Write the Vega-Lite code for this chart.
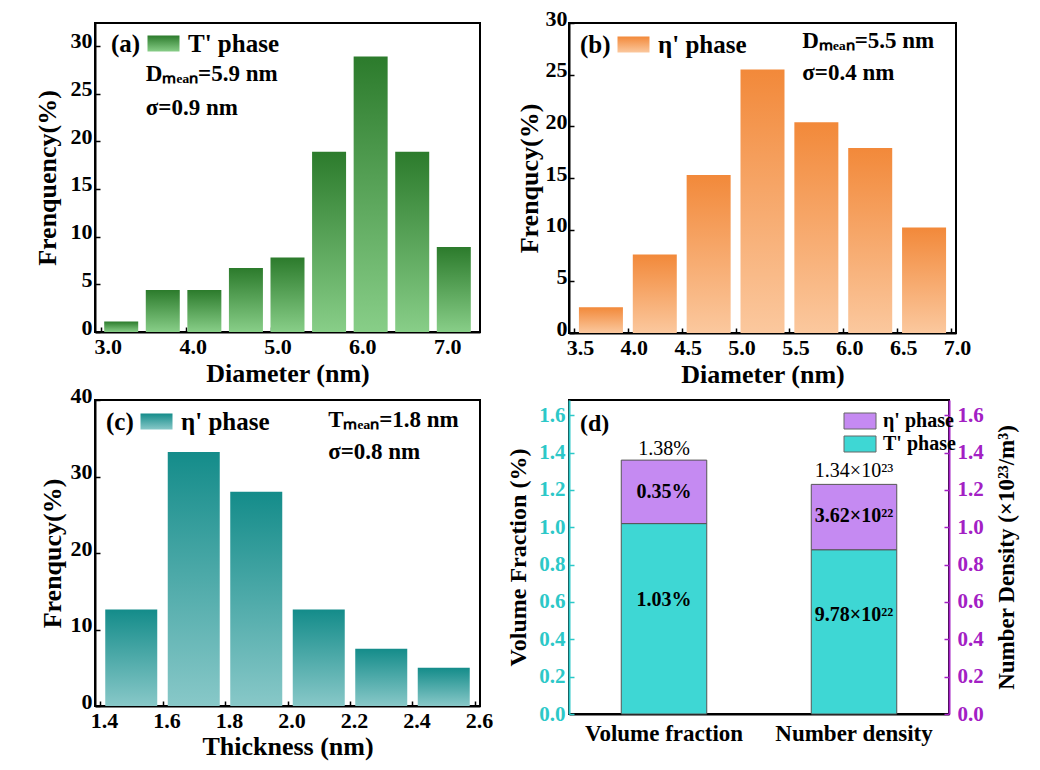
{
  "$schema": "https://vega.github.io/schema/vega-lite/v6.json",
  "background": "white",
  "padding": {"left": 33, "top": 6, "right": 5, "bottom": 5},
  "config": {
    "font": "Liberation Serif",
    "view": {"stroke": "black", "strokeWidth": 2},
    "axis": {
      "grid": false, "domainColor": "black", "domainWidth": 2,
      "tickColor": "black", "tickWidth": 1.5, "tickSize": -5,
      "labelFont": "Liberation Serif", "labelFontSize": 22, "labelFontWeight": "bold", "labelColor": "black",
      "titleFont": "Liberation Serif", "titleFontSize": 26, "titleFontWeight": "bold", "titleColor": "black",
      "labelFlush": false, "labelOverlap": false
    },
    "axisX": {"labelPadding": 9, "titlePadding": 3, "labelOffset": 7},
    "axisY": {"labelPadding": 8, "titlePadding": 9, "labelOffset": -5},
    "legend": {
      "padding": 0, "labelFont": "Liberation Serif", "titleFont": "Liberation Serif",
      "symbolType": "M-1.28,-0.64H1.28V0.64H-1.28Z", "symbolSize": 625, "rowPadding": 0
    },
    "text": {"font": "Liberation Serif", "fontWeight": "bold", "fontSize": 23}
  },
  "datasets": {
    "a": [
      {"d": 3.24, "f": 1.1}, {"d": 3.73, "f": 4.4}, {"d": 4.22, "f": 4.4},
      {"d": 4.71, "f": 6.7}, {"d": 5.2, "f": 7.8}, {"d": 5.69, "f": 18.9},
      {"d": 6.18, "f": 28.9}, {"d": 6.67, "f": 18.9}, {"d": 7.16, "f": 8.9}
    ],
    "a_txt": [
      {"x": 3.53, "y": 27.05, "label": "Dₘₑₐₙ=5.9 nm"},
      {"x": 3.53, "y": 23.5, "label": "σ=0.9 nm"}
    ],
    "b": [
      {"d": 3.75, "f": 2.5}, {"d": 4.25, "f": 7.6}, {"d": 4.75, "f": 15.3},
      {"d": 5.25, "f": 25.5}, {"d": 5.75, "f": 20.4}, {"d": 6.25, "f": 17.9},
      {"d": 6.75, "f": 10.2}
    ],
    "b_txt": [
      {"x": 5.62, "y": 28.3, "label": "Dₘₑₐₙ=5.5 nm"},
      {"x": 5.62, "y": 25.2, "label": "σ=0.4 nm"}
    ],
    "c": [
      {"t": 1.5, "f": 12.6}, {"t": 1.7, "f": 33.2}, {"t": 1.9, "f": 28.0},
      {"t": 2.1, "f": 12.6}, {"t": 2.3, "f": 7.5}, {"t": 2.5, "f": 5.0}
    ],
    "c_txt": [
      {"x": 2.13, "y": 37.4, "label": "Tₘₑₐₙ=1.8 nm"},
      {"x": 2.13, "y": 33.2, "label": "σ=0.8 nm"}
    ],
    "d": [
      {"cat": "Volume fraction", "phase": "T' phase", "v": 1.02},
      {"cat": "Volume fraction", "phase": "η' phase", "v": 0.34},
      {"cat": "Number density", "phase": "T' phase", "v": 0.88},
      {"cat": "Number density", "phase": "η' phase", "v": 0.35}
    ],
    "d_txt": [
      {"cat": "Volume fraction", "kind": "total", "y": 1.42, "label": "1.38%"},
      {"cat": "Volume fraction", "kind": "part", "y": 1.19, "label": "0.35%"},
      {"cat": "Volume fraction", "kind": "part", "y": 0.61, "label": "1.03%"},
      {"cat": "Number density", "kind": "total", "y": 1.3, "label": "1.34×10²³"},
      {"cat": "Number density", "kind": "part", "y": 1.06, "label": "3.62×10²²"},
      {"cat": "Number density", "kind": "part", "y": 0.53, "label": "9.78×10²²"}
    ]
  },
  "columns": 2,
  "bounds": "flush",
  "spacing": {"column": 89, "row": 67},
  "resolve": {
    "scale": {"x": "independent", "y": "independent", "color": "independent", "opacity": "independent"},
    "legend": {"color": "independent", "opacity": "independent"}
  },
  "concat": [
    {
      "width": 385, "height": 309,
      "layer": [
        {
          "data": {"name": "a"},
          "mark": {"type": "bar", "width": 34,
            "fill": {"gradient": "linear", "x1": 0, "y1": 0, "x2": 0, "y2": 1,
              "stops": [{"offset": 0, "color": "#2C7B2C"}, {"offset": 1, "color": "#88CE88"}]}},
          "encoding": {
            "x": {"field": "d", "type": "quantitative", "scale": {"domain": [2.99, 7.41], "nice": false, "zero": false},
                  "axis": {"values": [3, 4, 5, 6, 7], "format": ".1f", "title": "Diameter (nm)"}},
            "y": {"field": "f", "type": "quantitative", "scale": {"domain": [0, 32.4], "nice": false},
                  "axis": {"values": [0, 5, 10, 15, 20, 25, 30], "title": "Frenquency(%)", "titlePadding": 10}},
            "opacity": {"datum": "T' phase", "type": "nominal", "scale": {"range": [1]},
              "legend": {"title": "(a)", "titleOrient": "left", "orient": "none", "legendX": 16, "legendY": 8,
                "titleFontSize": 25, "titleFontWeight": "bold", "titlePadding": 10,
                "labelFontSize": 25, "labelFontWeight": "bold", "labelOffset": 12, "symbolStrokeWidth": 0,
                "encode": {"symbols": {"update": {"fill": {"value": {"gradient": "linear", "x1": 0, "y1": 0, "x2": 0, "y2": 1,
                  "stops": [{"offset": 0, "color": "#2C7B2C"}, {"offset": 1, "color": "#88CE88"}]}}, "opacity": {"value": 1}}}}}}
          }
        },
        {
          "data": {"name": "a_txt"},
          "mark": {"type": "text", "align": "left", "baseline": "middle"},
          "encoding": {
            "x": {"field": "x", "type": "quantitative"},
            "y": {"field": "y", "type": "quantitative"},
            "text": {"field": "label"}
          }
        }
      ]
    },
    {
      "width": 387, "height": 310,
      "layer": [
        {
          "data": {"name": "b"},
          "mark": {"type": "bar", "width": 44,
            "fill": {"gradient": "linear", "x1": 0, "y1": 0, "x2": 0, "y2": 1,
              "stops": [{"offset": 0, "color": "#F2893A"}, {"offset": 1, "color": "#FBC89E"}]}},
          "encoding": {
            "x": {"field": "d", "type": "quantitative", "scale": {"domain": [3.5, 7.0], "nice": false, "zero": false},
                  "axis": {"values": [3.5, 4.0, 4.5, 5.0, 5.5, 6.0, 6.5, 7.0], "format": ".1f", "title": "Diameter (nm)", "labelOffset": 6}},
            "y": {"field": "f", "type": "quantitative", "scale": {"domain": [0, 30], "nice": false},
                  "axis": {"values": [0, 5, 10, 15, 20, 25, 30], "title": "Frenqucy(%)", "labelPadding": 7, "titlePadding": 3}},
            "opacity": {"datum": "η' phase", "type": "nominal", "scale": {"range": [1]},
              "legend": {"title": "(b)", "titleOrient": "left", "orient": "none", "legendX": 11, "legendY": 9,
                "titleFontSize": 25, "titleFontWeight": "bold", "titlePadding": 10,
                "labelFontSize": 25, "labelFontWeight": "bold", "labelOffset": 12, "symbolStrokeWidth": 0,
                "encode": {"symbols": {"update": {"fill": {"value": {"gradient": "linear", "x1": 0, "y1": 0, "x2": 0, "y2": 1,
                  "stops": [{"offset": 0, "color": "#F2893A"}, {"offset": 1, "color": "#FBC89E"}]}}, "opacity": {"value": 1}}}}}}
          }
        },
        {
          "data": {"name": "b_txt"},
          "mark": {"type": "text", "align": "left", "baseline": "middle"},
          "encoding": {
            "x": {"field": "x", "type": "quantitative"},
            "y": {"field": "y", "type": "quantitative"},
            "text": {"field": "label"}
          }
        }
      ]
    },
    {
      "width": 385, "height": 306,
      "layer": [
        {
          "data": {"name": "c"},
          "mark": {"type": "bar", "width": 52,
            "fill": {"gradient": "linear", "x1": 0, "y1": 0, "x2": 0, "y2": 1,
              "stops": [{"offset": 0, "color": "#148C8A"}, {"offset": 1, "color": "#88C8C8"}]}},
          "encoding": {
            "x": {"field": "t", "type": "quantitative", "scale": {"domain": [1.4, 2.6], "nice": false, "zero": false},
                  "axis": {"values": [1.4, 1.6, 1.8, 2.0, 2.2, 2.4, 2.6], "format": ".1f", "title": "Thickness (nm)",
                           "labelPadding": 9, "titlePadding": 2, "labelOffset": 4}},
            "y": {"field": "f", "type": "quantitative", "scale": {"domain": [0, 40], "nice": false},
                  "axis": {"values": [0, 5, 10, 15, 20, 25, 30, 35, 40], "title": "Frenqucy(%)", "titlePadding": 5}},
            "opacity": {"datum": "η' phase", "type": "nominal", "scale": {"range": [1]},
              "legend": {"title": "(c)", "titleOrient": "left", "orient": "none", "legendX": 11, "legendY": 9,
                "titleFontSize": 25, "titleFontWeight": "bold", "titlePadding": 10,
                "labelFontSize": 25, "labelFontWeight": "bold", "labelOffset": 12, "symbolStrokeWidth": 0,
                "encode": {"symbols": {"update": {"fill": {"value": {"gradient": "linear", "x1": 0, "y1": 0, "x2": 0, "y2": 1,
                  "stops": [{"offset": 0, "color": "#148C8A"}, {"offset": 1, "color": "#88C8C8"}]}}, "opacity": {"value": 1}}}}}}
          }
        },
        {
          "data": {"name": "c_txt"},
          "mark": {"type": "text", "align": "left", "baseline": "middle"},
          "encoding": {
            "x": {"field": "x", "type": "quantitative"},
            "y": {"field": "y", "type": "quantitative"},
            "text": {"field": "label"}
          }
        }
      ]
    },
    {
      "width": 380, "height": 314,
      "title": {"text": "(d)", "anchor": "start", "frame": "group", "offset": -36, "dx": 11,
                "font": "Liberation Serif", "fontSize": 24, "fontWeight": "bold", "color": "black"},
      "resolve": {"scale": {"y": "independent"}},
      "layer": [
        {
          "data": {"name": "d"},
          "mark": {"type": "bar", "stroke": "#555555", "strokeWidth": 1},
          "encoding": {
            "x": {"field": "cat", "type": "nominal", "sort": ["Volume fraction", "Number density"],
                  "scale": {"paddingInner": 0.55, "paddingOuter": 0.275},
                  "axis": {"title": null, "labelAngle": 0, "labelFontSize": 23, "labelPadding": 13, "labelOffset": 0}},
            "y": {"field": "v", "type": "quantitative", "stack": "zero",
                  "scale": {"domain": [0, 1.682], "nice": false},
                  "axis": {"values": [0, 0.2, 0.4, 0.6, 0.8, 1.0, 1.2, 1.4, 1.6], "format": ".1f",
                           "title": "Volume Fraction (%)", "titleFontSize": 24, "labelFontSize": 21,
                           "labelPadding": 9, "titlePadding": 8, "labelOffset": 0,
                           "domainColor": "#2CC8C8", "labelColor": "#2CC8C8", "tickColor": "#2CC8C8"}},
            "order": {"field": "phase", "type": "nominal", "sort": "ascending"},
            "color": {"field": "phase", "type": "nominal",
              "scale": {"domain": ["η' phase", "T' phase"], "range": ["#C58AF2", "#3ED7D4"]},
              "legend": {"title": null, "orient": "none", "legendX": 278, "legendY": 8,
                "labelFontSize": 20, "labelFontWeight": "bold", "labelOffset": 10,
                "symbolStrokeColor": "#666666", "symbolStrokeWidth": 1}}
          }
        },
        {
          "data": {"name": "d_txt"},
          "transform": [{"filter": "datum.kind === 'part'"}],
          "mark": {"type": "text", "fontWeight": "bold", "fontSize": 20},
          "encoding": {
            "x": {"field": "cat", "type": "nominal", "sort": ["Volume fraction", "Number density"]},
            "y": {"field": "y", "type": "quantitative", "scale": {"domain": [0, 1.682], "nice": false},
                  "axis": {"orient": "right", "values": [0, 0.2, 0.4, 0.6, 0.8, 1.0, 1.2, 1.4, 1.6], "format": ".1f",
                           "title": "Number Density (×10²³/m³)", "titleAngle": 270, "titleBaseline": "top",
                           "titleFontSize": 23, "labelFontSize": 21, "labelPadding": 13, "titlePadding": 12, "labelOffset": 0,
                           "domainColor": "#A320C4", "labelColor": "#A320C4", "tickColor": "#A320C4"}},
            "text": {"field": "label"}
          }
        },
        {
          "data": {"name": "d_txt"},
          "transform": [{"filter": "datum.kind === 'total'"}],
          "mark": {"type": "text", "fontWeight": "normal", "fontSize": 20},
          "encoding": {
            "x": {"field": "cat", "type": "nominal", "sort": ["Volume fraction", "Number density"]},
            "y": {"field": "y", "type": "quantitative", "scale": {"domain": [0, 1.682], "nice": false}, "axis": null},
            "text": {"field": "label"}
          }
        }
      ]
    }
  ]
}
